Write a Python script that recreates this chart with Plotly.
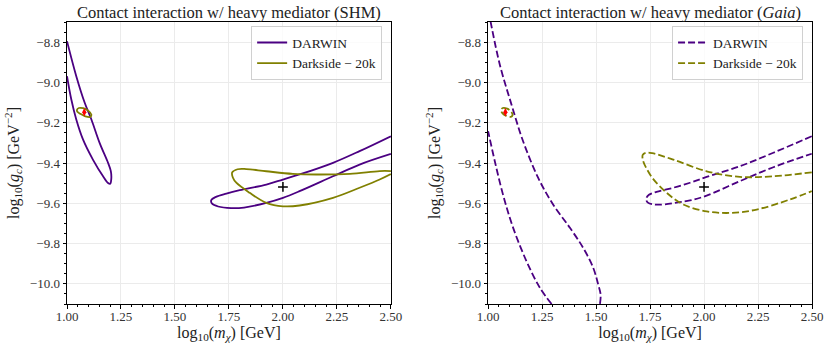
import plotly.graph_objects as go
from plotly.subplots import make_subplots

# ---- data ----
# SHM panel
shm_darwin_low_x = [1.000, 1.043, 1.082, 1.113, 1.151, 1.190, 1.203, 1.205, 1.200, 1.190, 1.167, 1.120, 1.074, 1.043, 1.020, 1.000]
shm_darwin_low_y = [-8.795, -8.969, -9.101, -9.184, -9.300, -9.399, -9.440, -9.480, -9.503, -9.499, -9.466, -9.383, -9.283, -9.184, -9.085, -8.969]

shm_darwin_high_x = [2.500, 2.355, 2.232, 2.077, 2.000, 1.923, 1.800, 1.738, 1.690, 1.668, 1.672, 1.700, 1.760, 1.820, 1.923, 2.000, 2.077, 2.232, 2.355, 2.500]
shm_darwin_high_y = [-9.267, -9.341, -9.399, -9.457, -9.482, -9.507, -9.535, -9.552, -9.568, -9.584, -9.602, -9.616, -9.624, -9.621, -9.598, -9.573, -9.540, -9.466, -9.408, -9.355]

shm_ds_low_x = [1.046, 1.055, 1.075, 1.098, 1.113, 1.108, 1.085, 1.062, 1.048, 1.046]
shm_ds_low_y = [-9.137, -9.127, -9.128, -9.140, -9.160, -9.171, -9.168, -9.156, -9.146, -9.137]

shm_ds_high_x = [2.500, 2.448, 2.310, 2.155, 2.046, 1.923, 1.830, 1.790, 1.765, 1.768, 1.784, 1.846, 1.923, 2.000, 2.077, 2.232, 2.355, 2.448, 2.500]
shm_ds_high_y = [-9.440, -9.440, -9.454, -9.457, -9.454, -9.441, -9.430, -9.431, -9.447, -9.472, -9.498, -9.548, -9.598, -9.615, -9.611, -9.573, -9.523, -9.482, -9.455]

# Gaia panel
gaia_darwin_low_x = [1.011, 1.054, 1.108, 1.162, 1.232, 1.301, 1.379, 1.440, 1.487, 1.510, 1.521, 1.518, None,
                     1.294, 1.240, 1.178, 1.116, 1.069, 1.031, 1.000]
gaia_darwin_low_y = [-8.696, -8.911, -9.109, -9.292, -9.474, -9.606, -9.722, -9.821, -9.921, -10.004, -10.053, -10.100, None,
                     -10.100, -10.020, -9.888, -9.722, -9.557, -9.391, -9.242]

gaia_darwin_high_x = [2.499, 2.321, 2.166, 2.012, 1.935, 1.857, 1.780, 1.745, 1.732, 1.740, 1.770, 1.820, 1.880, 1.935, 2.012, 2.166, 2.321, 2.499]
gaia_darwin_high_y = [-9.267, -9.349, -9.416, -9.469, -9.498, -9.523, -9.543, -9.558, -9.578, -9.597, -9.606, -9.605, -9.595, -9.586, -9.562, -9.490, -9.421, -9.354]

gaia_ds_low_x = [1.059, 1.068, 1.088, 1.106, 1.113, 1.105, 1.084, 1.066, 1.059]
gaia_ds_low_y = [-9.137, -9.127, -9.130, -9.144, -9.163, -9.171, -9.166, -9.152, -9.137]

gaia_ds_high_x = [2.499, 2.321, 2.166, 2.012, 1.857, 1.760, 1.730, 1.716, 1.718, 1.735, 1.765, 1.827, 1.904, 2.012, 2.120, 2.244, 2.398, 2.499]
gaia_ds_high_y = [-9.446, -9.466, -9.469, -9.441, -9.383, -9.351, -9.349, -9.360, -9.390, -9.430, -9.480, -9.548, -9.606, -9.640, -9.648, -9.631, -9.581, -9.540]

# benchmark points
red_x, red_y = [1.08], [-9.148]
black_x, black_y = [2.0], [-9.519]

titles = ["Contact interaction w/ heavy mediator (SHM)",
          "Contact interaction w/ heavy mediator (<i>Gaia</i>)"]
yticks = [-8.8, -9.0, -9.2, -9.4, -9.6, -9.8, -10.0]
xticks = [1.00, 1.25, 1.50, 1.75, 2.00, 2.25, 2.50]

DARWIN = "#4b0082"
DARKSIDE = "#808000"
FONT = "Liberation Serif"

fig = make_subplots(rows=1, cols=2, horizontal_spacing=0.1305)

panels = [
    (1, "solid", "legend", [(shm_darwin_low_x, shm_darwin_low_y), (shm_darwin_high_x, shm_darwin_high_y)],
     [(shm_ds_low_x, shm_ds_low_y), (shm_ds_high_x, shm_ds_high_y)]),
    (2, "7px,3px", "legend2", [(gaia_darwin_low_x, gaia_darwin_low_y), (gaia_darwin_high_x, gaia_darwin_high_y)],
     [(gaia_ds_low_x, gaia_ds_low_y), (gaia_ds_high_x, gaia_ds_high_y)]),
]

for col, dash, leg, dar, ds in panels:
    for i, (xx, yy) in enumerate(dar):
        fig.add_trace(go.Scatter(x=xx, y=yy, mode="lines", line=dict(color=DARWIN, width=1.8, dash=dash, shape="spline", smoothing=1.0),
                                 name="DARWIN", legend=leg, showlegend=(i == 0), legendgroup="d%d" % col), row=1, col=col)
    for i, (xx, yy) in enumerate(ds):
        fig.add_trace(go.Scatter(x=xx, y=yy, mode="lines", line=dict(color=DARKSIDE, width=1.8, dash=dash, shape="spline", smoothing=1.0),
                                 name="Darkside \u2212 20k", legend=leg, showlegend=(i == 0), legendgroup="s%d" % col), row=1, col=col)
    fig.add_trace(go.Scatter(x=red_x, y=red_y, mode="markers", showlegend=False,
                             marker=dict(symbol="diamond-tall", size=6, color="red")), row=1, col=col)
    fig.add_trace(go.Scatter(x=black_x, y=black_y, mode="markers", showlegend=False,
                             marker=dict(symbol="cross-thin", size=7, color="black", line=dict(width=1.5, color="black"))), row=1, col=col)

axis_common = dict(showline=True, linecolor="black", linewidth=1, mirror=True, automargin=False,
                   ticks="outside", ticklen=3.5, tickwidth=0.8, tickcolor="black",
                   showgrid=True, gridcolor="#ebebeb", gridwidth=0.8, zeroline=False,
                   tickfont=dict(family=FONT, size=13, color="#333"))

for col in (1, 2):
    fig.update_xaxes(range=[1.0, 2.5], tickvals=xticks, ticktext=["%.2f" % v for v in xticks],
                     minor=dict(dtick=0.05, ticklen=2, ticks="outside", tickcolor="black", showgrid=False),
                     ticklabelstandoff=-3,
                     title=dict(text="log<sub>10</sub>(<i>m<sub>\u03c7</sub></i>) [GeV]", standoff=0,
                                font=dict(family=FONT, size=16, color="#222")),
                     row=1, col=col, **axis_common)
    fig.update_yaxes(range=[-10.1, -8.7], tickvals=yticks, ticktext=["\u2212%.1f" % abs(v) for v in yticks],
                     minor=dict(dtick=0.05, ticklen=2, ticks="outside", tickcolor="black", showgrid=False),
                     title=dict(text="log<sub>10</sub>(<i>g<sub>c</sub></i>) [GeV<sup>\u22122</sup>]", standoff=6,
                                font=dict(family=FONT, size=16, color="#222")),
                     row=1, col=col, **axis_common)

legend_style = dict(bgcolor="rgba(255,255,255,0.8)", bordercolor="#d0d0d0", borderwidth=1,
                    font=dict(family=FONT, size=13.5, color="#222"), xanchor="right", yanchor="top",
                    y=0.985, tracegroupgap=0, itemwidth=30)

fig.update_layout(
    width=830, height=348,
    margin=dict(l=67, r=18, t=22, b=44),
    plot_bgcolor="white", paper_bgcolor="white",
    font=dict(family=FONT, color="#222"),
    legend=dict(x=0.435 - 0.012, **legend_style),
    legend2=dict(x=0.988, **legend_style),
    showlegend=True,
)

doms = [fig.layout.xaxis.domain, fig.layout.xaxis2.domain]
for d, t in zip(doms, titles):
    fig.add_annotation(text=t, xref="paper", yref="paper", x=(d[0] + d[1]) / 2, y=1.0,
                       xanchor="center", yanchor="bottom", showarrow=False, yshift=-2,
                       font=dict(family=FONT, size=16.5, color="#222"))

fig.write_html("out.html", config={"displayModeBar": False},
               post_script="document.body.style.margin='0';")
